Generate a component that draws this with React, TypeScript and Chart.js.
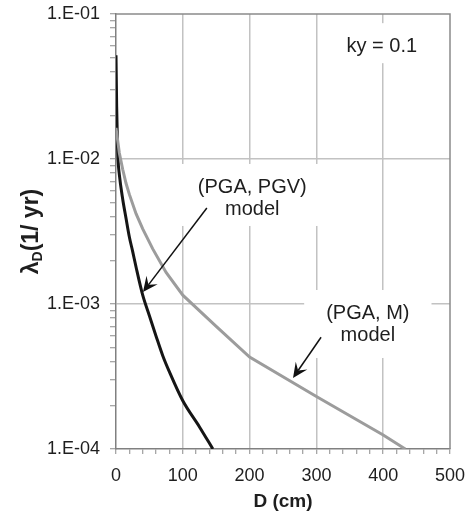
import React, { useEffect, useRef } from "react";
import { Chart, registerables } from "chart.js";

Chart.register(...registerables);

// ---- data ----
const pgvDisp = [0, 1, 2, 3, 5, 10, 15, 20, 25, 30, 40, 50, 60, 70, 80, 100, 125, 145];
const pgvRate = [5.2e-2, 2.3e-2, 1.4e-2, 1.0e-2, 7.8e-3, 5.3e-3, 3.9e-3, 2.9e-3, 2.3e-3, 1.8e-3, 1.15e-3, 8.3e-4, 6.0e-4, 4.4e-4, 3.4e-4, 2.15e-4, 1.42e-4, 1.0e-4];

const pgaMDisp = [0, 5, 10, 15, 20, 30, 40, 55, 75, 100, 150, 200, 300, 400, 433];
const pgaMRate = [1.64e-2, 1.1e-2, 8.5e-3, 6.8e-3, 5.7e-3, 4.2e-3, 3.3e-3, 2.4e-3, 1.65e-3, 1.15e-3, 7.0e-4, 4.3e-4, 2.3e-4, 1.25e-4, 1.0e-4];

const xMajorTicks = [0, 100, 200, 300, 400, 500];
const xMinorStep = 20;
const yDecades = [1e-4, 1e-3, 1e-2, 1e-1];
const yTickLabels = ["1.E-04", "1.E-03", "1.E-02", "1.E-01"];
const yMinorMantissas = [1, 2, 3, 4, 5, 6, 7, 8, 9];

const xTitle = "D (cm)";
const yTitleMain = "\u03bb";
const yTitleSub = "D";
const yTitleRest = "(1/ yr)";
const kyLabel = "ky = 0.1";
const pgvLabel = ["(PGA, PGV)", "model"];
const pgaMLabel = ["(PGA, M)", "model"];

const FONT = "'Liberation Sans', Arial, sans-serif";

export default function App() {
  const ref = useRef<HTMLCanvasElement>(null);

  useEffect(() => {
    const canvas = ref.current!;
    const isDecade = (v: number) => Math.abs(Math.log10(v) - Math.round(Math.log10(v))) < 1e-6;

    const drawArrow = (ctx: CanvasRenderingContext2D, x1: number, y1: number, x2: number, y2: number) => {
      const ang = Math.atan2(y2 - y1, x2 - x1);
      const len = 15, half = 7, notch = 9;
      ctx.beginPath();
      ctx.moveTo(x1, y1);
      ctx.lineTo(x2 - Math.cos(ang) * notch, y2 - Math.sin(ang) * notch);
      ctx.strokeStyle = "#111";
      ctx.lineWidth = 1.5;
      ctx.stroke();
      const bx = x2 - Math.cos(ang) * len, by = y2 - Math.sin(ang) * len;
      const nx = -Math.sin(ang), ny = Math.cos(ang);
      ctx.beginPath();
      ctx.moveTo(x2, y2);
      ctx.lineTo(bx + nx * half, by + ny * half);
      ctx.lineTo(x2 - Math.cos(ang) * notch, y2 - Math.sin(ang) * notch);
      ctx.lineTo(bx - nx * half, by - ny * half);
      ctx.closePath();
      ctx.fillStyle = "#111";
      ctx.fill();
    };

    const drawLabel = (ctx: CanvasRenderingContext2D, lines: string[], cx: number, cy: number, padX: number, boxH: number, boxDy: number) => {
      ctx.font = `20px ${FONT}`;
      const lh = 22;
      const w = Math.max(...lines.map((l) => ctx.measureText(l).width));
      ctx.fillStyle = "#fff";
      ctx.fillRect(cx - w / 2 - padX, cy + boxDy - boxH / 2, w + 2 * padX, boxH);
      ctx.fillStyle = "#1e1e1e";
      ctx.textAlign = "center";
      ctx.textBaseline = "middle";
      lines.forEach((l, i) => ctx.fillText(l, cx, cy + (i - (lines.length - 1) / 2) * lh));
    };

    const annot = {
      id: "annot",
      beforeDatasetsDraw(chart: any) {
        const { ctx, chartArea: a } = chart;
        ctx.save();
        ctx.strokeStyle = "#8a8a8a";
        ctx.lineWidth = 1.5;
        ctx.beginPath();
        ctx.moveTo(a.left, a.top);
        ctx.lineTo(a.right, a.top);
        ctx.lineTo(a.right, a.bottom);
        ctx.stroke();
        ctx.restore();
      },
      afterDatasetsDraw(chart: any) {
        const { ctx, chartArea: a } = chart;
        const xs = chart.scales.x, ys = chart.scales.y;
        const px = (v: number) => xs.getPixelForValue(v);
        const py = (v: number) => ys.getPixelForValue(v);
        ctx.save();
        drawLabel(ctx, [kyLabel], px(398), py(6.0e-2), 20, 40, -3);
        drawLabel(ctx, pgvLabel, px(204), py(5.3e-3), 20, 62, -4);
        drawLabel(ctx, pgaMLabel, px(377), py(7.28e-4), 22, 68, 0);
        drawArrow(ctx, px(136), py(4.59e-3), px(40.4), py(1.21e-3));
        drawArrow(ctx, px(307), py(5.9e-4), px(265), py(3.09e-4));
        ctx.fillStyle = "#1e1e1e";
        ctx.font = `bold 19px ${FONT}`;
        ctx.textAlign = "center";
        ctx.textBaseline = "middle";
        ctx.fillText(xTitle, (a.left + a.right) / 2, 502);
        ctx.translate(30, (a.top + a.bottom) / 2);
        ctx.rotate(-Math.PI / 2);
        ctx.textAlign = "left";
        ctx.textBaseline = "alphabetic";
        const big = `bold 23px ${FONT}`, small = `bold 14px ${FONT}`;
        ctx.font = big;
        const w1 = ctx.measureText(yTitleMain).width;
        const w3 = ctx.measureText(yTitleRest).width;
        ctx.font = small;
        const w2 = ctx.measureText(yTitleSub).width;
        const total = w1 + w2 + w3;
        let x0 = -total / 2;
        const base = 8;
        ctx.font = big;
        ctx.fillText(yTitleMain, x0, base);
        x0 += w1;
        ctx.font = small;
        ctx.fillText(yTitleSub, x0, base + 4);
        x0 += w2;
        ctx.font = big;
        ctx.fillText(yTitleRest, x0, base);
        ctx.restore();
      },
    };

    const chart = new Chart(canvas, {
      type: "line",
      data: {
        datasets: [
          {
            label: "(PGA, M) model",
            data: pgaMDisp.map((d, i) => ({ x: d, y: pgaMRate[i] })),
            borderColor: "#9c9c9c",
            borderWidth: 3,
            pointRadius: 0,
            tension: 0,
          },
          {
            label: "(PGA, PGV) model",
            data: pgvDisp.map((d, i) => ({ x: d, y: pgvRate[i] })),
            borderColor: "#151515",
            borderWidth: 3,
            pointRadius: 0,
            cubicInterpolationMode: "monotone",
          },
        ],
      },
      options: {
        responsive: false,
        animation: false,
        devicePixelRatio: 1,
        layout: { padding: { top: 14, right: 23, left: 0, bottom: 0 } },
        plugins: { legend: { display: false }, tooltip: { enabled: false }, title: { display: false } },
        scales: {
          x: {
            type: "linear",
            min: xMajorTicks[0],
            max: xMajorTicks[xMajorTicks.length - 1],
            afterBuildTicks: (s: any) => {
              const t = [];
              for (let v = xMajorTicks[0]; v <= xMajorTicks[xMajorTicks.length - 1]; v += xMinorStep) t.push({ value: v });
              s.ticks = t;
            },
            afterFit: (s: any) => {
              s.height = 69;
              s.paddingLeft = 0;
              s.paddingRight = 0;
            },
            ticks: {
              autoSkip: false,
              maxRotation: 0,
              padding: 11,
              color: "#1e1e1e",
              font: { family: FONT, size: 18 },
              callback: (v: any) => (xMajorTicks.includes(Number(v)) ? String(v) : ""),
            },
            grid: {
              color: (c: any) => {
                const v = c.tick ? c.tick.value : NaN;
                return xMajorTicks.includes(v) && v !== xMajorTicks[0] && v !== xMajorTicks[xMajorTicks.length - 1] ? "#c2c2c2" : "rgba(0,0,0,0)";
              },
              lineWidth: 1.5,
              tickColor: "#8a8a8a",
              tickLength: 5,
              tickWidth: 1,
            },
            border: { color: "#808080", width: 1.5 },
          },
          y: {
            type: "logarithmic",
            min: yDecades[0],
            max: yDecades[yDecades.length - 1],
            afterBuildTicks: (s: any) => {
              const t: any[] = [];
              for (let i = 0; i < yDecades.length - 1; i++) {
                yMinorMantissas.forEach((m) => t.push({ value: m * yDecades[i] }));
              }
              t.push({ value: yDecades[yDecades.length - 1] });
              s.ticks = t;
            },
            afterFit: (s: any) => {
              s.width = 116;
              s.paddingTop = 0;
              s.paddingBottom = 0;
            },
            ticks: {
              autoSkip: false,
              padding: 10,
              color: "#1e1e1e",
              font: { family: FONT, size: 18 },
              callback: (v: any) => {
                const n = Number(v);
                if (!isDecade(n)) return "";
                const idx = yDecades.findIndex((d) => Math.abs(Math.log10(d) - Math.log10(n)) < 1e-6);
                return idx >= 0 ? yTickLabels[idx] : "";
              },
            },
            grid: {
              color: (c: any) => {
                const v = c.tick ? c.tick.value : NaN;
                return isDecade(v) && v !== yDecades[0] && v !== yDecades[yDecades.length - 1] ? "#c2c2c2" : "rgba(0,0,0,0)";
              },
              lineWidth: 1.5,
              tickColor: "#8a8a8a",
              tickLength: 6,
              tickWidth: 1,
            },
            border: { color: "#808080", width: 1.5 },
          },
        },
      },
      plugins: [annot],
    } as any);

    return () => chart.destroy();
  }, []);

  return (
    <div style={{ position: "absolute", left: 0, top: 0, width: 473, height: 518, background: "#fff" }}>
      <canvas ref={ref} width={473} height={518} style={{ width: 473, height: 518, display: "block" }} />
    </div>
  );
}
